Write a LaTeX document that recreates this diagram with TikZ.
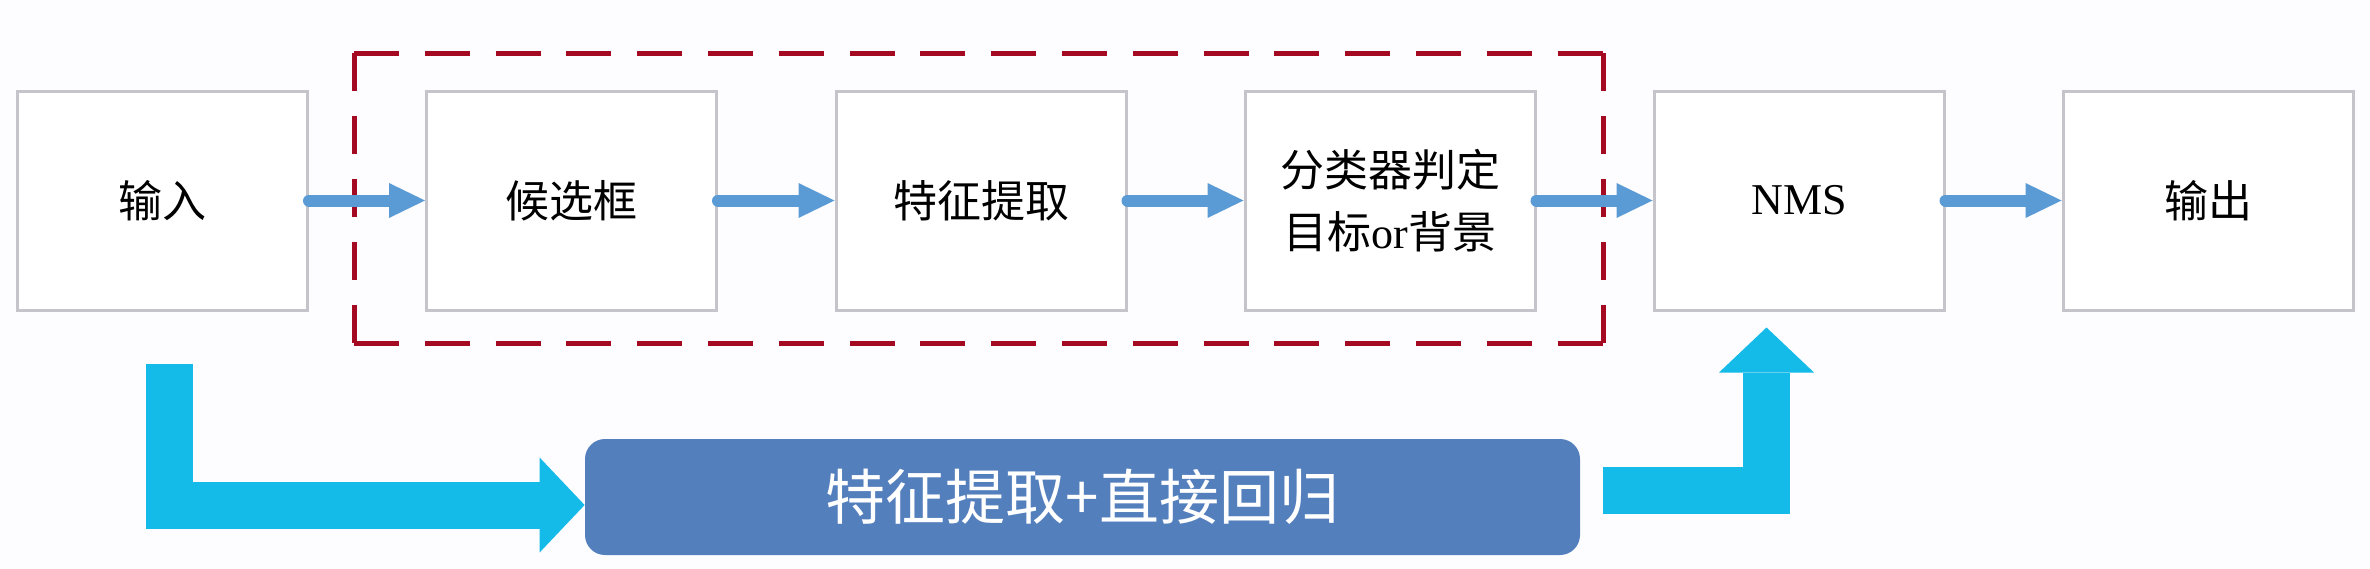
\documentclass[tikz,border=0pt]{standalone}
\usepackage{fontspec}
\setmainfont{Liberation Serif}
\newfontfamily\cjk{Noto Sans CJK SC}
\usetikzlibrary{arrows.meta}
\definecolor{boxgray}{RGB}{196,196,202}
\definecolor{flowblue}{RGB}{91,155,213}
\definecolor{dashred}{RGB}{165,10,35}
\definecolor{bigcyan}{RGB}{20,186,232}
\definecolor{regblue}{RGB}{84,127,189}
\definecolor{bgcol}{RGB}{253,253,255}
\begin{document}
\begin{tikzpicture}[x=0.5pt,y=-0.5pt,
  stepbox/.style={draw=boxgray, line width=1.5pt, fill=white, minimum width=145pt, minimum height=109.5pt, inner sep=0pt, font=\fontsize{22}{31}\selectfont, align=center},
  flow/.style={draw=flowblue, line width=6pt, line cap=round, -{Triangle[width=17.5pt,length=18pt,line width=0pt]}},
  big/.style={draw=bigcyan, line width=23.5pt, -{Triangle[width=47.5pt,length=22.5pt,line width=0pt]}},
  dashedge/.style={draw=dashred, line width=2.5pt, line cap=square},
]
\fill[bgcol] (0,0) rectangle (2370,568);
\useasboundingbox (0,0) rectangle (2370,568);

% dashed group frame
\coordinate (g1) at (354,53);
\coordinate (g2) at (1603,53);
\coordinate (g3) at (1603,343);
\coordinate (g4) at (354,343);
\draw[dashedge, dash pattern=on 22.5pt off 12.9pt] (g1) -- (g2);
\draw[dashedge, dash pattern=on 22.5pt off 12.9pt] (g4) -- (g3);
\draw[dashedge, dash pattern=on 19pt off 12.5pt] (g1) -- (g4);
\draw[dashedge, dash pattern=on 19pt off 12.5pt] (g2) -- (g3);

% boxes
\node[stepbox] (in)   at (162.5,200.5) {\cjk 输入};
\node[stepbox] (cand) at (571.5,200.5) {\cjk 候选框};
\node[stepbox] (feat) at (981,200.5)   {\cjk 特征提取};
\node[stepbox] (cls)  at (1390,200.5)  {{\cjk 分类器判定}\\{\cjk 目标}or{\cjk 背景}};
\node[stepbox] (nms)  at (1799,200.5)  {NMS};
\node[stepbox] (out)  at (2208,200.5)  {\cjk 输出};

% flow arrows
\draw[flow] (in.east) -- (cand.west);
\draw[flow] (cand.east) -- (feat.west);
\draw[flow] (feat.east) -- (cls.west);
\draw[flow] (cls.east) -- (nms.west);
\draw[flow] (nms.east) -- (out.west);

% regression box
\node[fill=regblue, rounded corners=10pt, minimum width=497.5pt, minimum height=58pt, inner sep=0pt, text=white, font=\cjk\fontsize{30}{36}\selectfont] (reg) at (1082.5,497) {特征提取+直接回归};

% big cyan arrows
\coordinate (lstart) at (169.5,364);
\draw[big] (lstart) |- ([yshift=-4pt]reg.west);
\coordinate (rstart) at (1603,490);
\draw[big] (rstart) -| ([xshift=-16.25pt,yshift=-8pt]nms.south);
\end{tikzpicture}
\end{document}
